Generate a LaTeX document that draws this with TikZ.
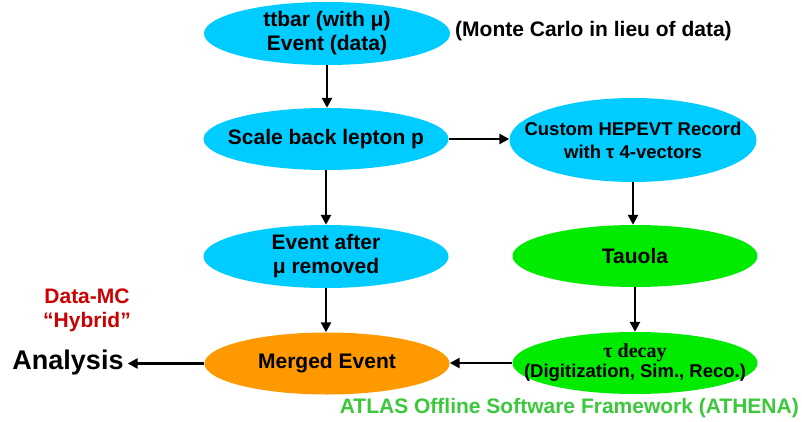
\documentclass[tikz,border=0pt]{standalone}
\usepackage{fontspec}
\setmainfont{Liberation Sans}
\newfontfamily\serifbf{Liberation Serif}
\usetikzlibrary{shapes.geometric,arrows.meta}
\definecolor{cyanfill}{RGB}{0,204,255}
\definecolor{greenfill}{RGB}{0,235,0}
\definecolor{orangefill}{RGB}{255,153,0}
\definecolor{atlasgreen}{RGB}{60,200,60}
\definecolor{hybridred}{RGB}{204,0,0}
\begin{document}
\begin{tikzpicture}[x=1pt,y=1pt,
  oval/.style={ellipse, inner xsep=-80pt, inner ysep=-30pt, minimum width=245pt, minimum height=62pt, align=center,
    font=\bfseries\fontsize{21}{24}\selectfont},
  bluebox/.style={oval, fill=cyanfill},
  greenbox/.style={oval, fill=greenfill},
  orangebox/.style={oval, fill=orangefill},
  label text/.style={font=\bfseries\fontsize{21}{24}\selectfont, inner sep=0pt, align=center},
  arr/.style={-{Triangle[length=10pt,width=10pt]}, line width=2.8pt}]
\useasboundingbox (0,0) rectangle (802,-422);
\fill[white] (0,0) rectangle (802,-422);

\node[bluebox, minimum width=246pt, minimum height=63pt] (ev) at (327,-33.5) {ttbar (with μ)\\Event (data)};
\node[bluebox] (scale) at (326,-139) {Scale back lepton p};
\node[bluebox, minimum width=247pt, minimum height=84pt, font=\bfseries\fontsize{18.5}{23}\selectfont] (hep) at (633,-140) {Custom HEPEVT Record\\with τ 4-vectors};
\node[bluebox, minimum height=63pt] (after) at (326,-256.5) {Event after\\μ removed};
\node[greenbox] (tauola) at (635,-256) {Tauola};
\node[orangebox] (merged) at (327,-363.5) {Merged Event};
\node[greenbox, font=\bfseries\fontsize{18.5}{20}\selectfont] (decay) at (635,-363) {{\serifbf\fontsize{20}{20}\selectfont τ decay}\\(Digitization, Sim., Reco.)};

\node[label text, anchor=west] (mc) at (455,-31) {(Monte Carlo in lieu of data)};
\node[label text, font=\bfseries\fontsize{27}{30}\selectfont] (analysis) at (68,-363) {Analysis};
\node[label text, text=hybridred] (hybrid) at (87,-310) {Data-MC\\“Hybrid”};
\node[label text, text=atlasgreen, anchor=east] (atlas) at (799,-408) {ATLAS Offline Software Framework (ATHENA)};

\draw[arr] (ev.south) -- (ev.south |- scale.north);
\draw[arr] (scale.south) -- (scale.south |- after.north);
\draw[arr] (after.south) -- (after.south |- merged.north);
\draw[arr] (scale.east) -- (hep.west |- scale.east);
\draw[arr] (hep.south) -- (hep.south |- tauola.north);
\draw[arr] (tauola.south) -- (tauola.south |- decay.north);
\draw[arr] (decay.west) -- (merged.east |- decay.west);
\draw[arr] (merged.west) -- ([xshift=4pt]analysis.east |- merged.west);
\end{tikzpicture}
\end{document}
